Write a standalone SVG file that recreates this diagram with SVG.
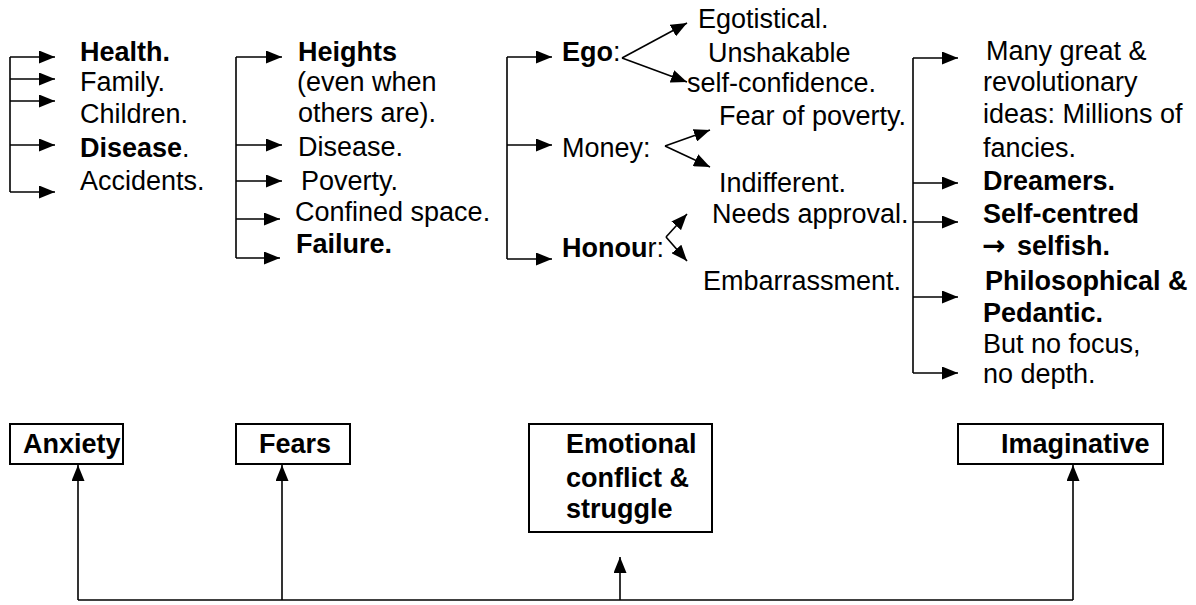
<svg xmlns="http://www.w3.org/2000/svg" width="1196" height="605" viewBox="0 0 1196 605">
<defs>
<marker id="ah" markerUnits="userSpaceOnUse" markerWidth="16" markerHeight="13" refX="16" refY="6.5" orient="auto">
<path d="M0,0 L16,6.5 L0,13 z" fill="#000"/>
</marker>
<style>
text{font-family:"Liberation Sans",Arial,sans-serif;font-size:27px;fill:#000}
.b{font-weight:bold}
.ar{font-family:"DejaVu Sans",sans-serif;font-weight:bold;font-size:28px}
.c{fill:none;stroke:#000;stroke-width:1.6}
.a{fill:none;stroke:#000;stroke-width:1.6;marker-end:url(#ah)}
.box{fill:#fff;stroke:#000;stroke-width:2}
</style>
</defs>
<rect width="1196" height="605" fill="#fff"/>
<g id="connectors">
<path class="c" d="M10,57 V192"/>
<path class="a" d="M10,57 H55"/>
<path class="a" d="M10,79 H55"/>
<path class="a" d="M10,101 H55"/>
<path class="a" d="M10,145 H55"/>
<path class="a" d="M10,192 H55"/>
<path class="c" d="M236,57 V258"/>
<path class="a" d="M236,57 H282"/>
<path class="a" d="M236,145 H282"/>
<path class="a" d="M236,181 H282"/>
<path class="a" d="M236,219 H280"/>
<path class="a" d="M236,258 H280"/>
<path class="c" d="M507,57 V259"/>
<path class="a" d="M507,57 H552"/>
<path class="a" d="M507,145 H552"/>
<path class="a" d="M507,259 H552"/>
<path class="a" d="M622,58 L687,23"/>
<path class="a" d="M622,58 L687,82"/>
<path class="a" d="M665,146 L710,130"/>
<path class="a" d="M665,146 L710,167"/>
<path class="a" d="M666,237 L687,214"/>
<path class="a" d="M666,237 L687,261"/>
<path class="c" d="M913,58 V373"/>
<path class="a" d="M913,58 H958"/>
<path class="a" d="M913,183 H958"/>
<path class="a" d="M913,222 H958"/>
<path class="a" d="M913,297 H958"/>
<path class="a" d="M913,373 H958"/>
<path class="c" d="M78,600 H1073"/>
<path class="a" d="M78,600 V465"/>
<path class="a" d="M282,600 V465"/>
<path class="a" d="M620,600 V557"/>
<path class="a" d="M1073,600 V465"/>
</g>
<g id="anxiety-list">
<text x="80" y="61" class="b">Health.</text>
<text x="80" y="91">Family.</text>
<text x="80" y="123">Children.</text>
<text x="80" y="157"><tspan class="b">Disease</tspan>.</text>
<text x="80" y="190">Accidents.</text>
</g>
<g id="fears-list">
<text x="298" y="61" class="b">Heights</text>
<text x="297" y="91">(even when</text>
<text x="298" y="122">others are).</text>
<text x="298" y="156">Disease.</text>
<text x="301" y="190">Poverty.</text>
<text x="295" y="221">Confined space.</text>
<text x="296" y="253" class="b">Failure.</text>
</g>
<g id="conflict-list">
<text x="562" y="61"><tspan class="b">Ego</tspan>:</text>
<text x="562" y="157">Money:</text>
<text x="562" y="257"><tspan class="b">Honou</tspan>r:</text>
</g>
<g id="conflict-details">
<text x="698" y="28">Egotistical.</text>
<text x="708" y="62">Unshakable</text>
<text x="687" y="92">self-confidence.</text>
<text x="719" y="125">Fear of poverty.</text>
<text x="719" y="192">Indifferent.</text>
<text x="712" y="223">Needs approval.</text>
<text x="703" y="290">Embarrassment.</text>
</g>
<g id="imaginative-list">
<text x="986" y="60">Many great &amp;</text>
<text x="983" y="91">revolutionary</text>
<text x="983" y="123">ideas: Millions of</text>
<text x="983" y="157">fancies.</text>
<text x="983" y="190" class="b">Dreamers.</text>
<text x="983" y="223" class="b">Self-centred</text>
<text x="982" y="255" class="b"><tspan class="ar">→</tspan><tspan x="1017">selfish.</tspan></text>
<text x="985" y="290" class="b">Philosophical &amp;</text>
<text x="983" y="322" class="b">Pedantic.</text>
<text x="983" y="353">But no focus,</text>
<text x="983" y="383">no depth.</text>
</g>
<g id="anxiety">
<rect class="box" x="10" y="424" width="113" height="40"/>
<text x="23" y="453" class="b">Anxiety</text>
</g>
<g id="fears">
<rect class="box" x="236" y="424" width="114" height="40"/>
<text x="259" y="453" class="b">Fears</text>
</g>
<g id="emotional">
<rect class="box" x="529" y="424" width="183" height="108"/>
<text x="566" y="453" class="b">Emotional</text>
<text x="566" y="487" class="b">conflict &amp;</text>
<text x="566" y="518" class="b">struggle</text>
</g>
<g id="imaginative">
<rect class="box" x="958" y="424" width="205" height="40"/>
<text x="1001" y="453" class="b">Imaginative</text>
</g>
</svg>
